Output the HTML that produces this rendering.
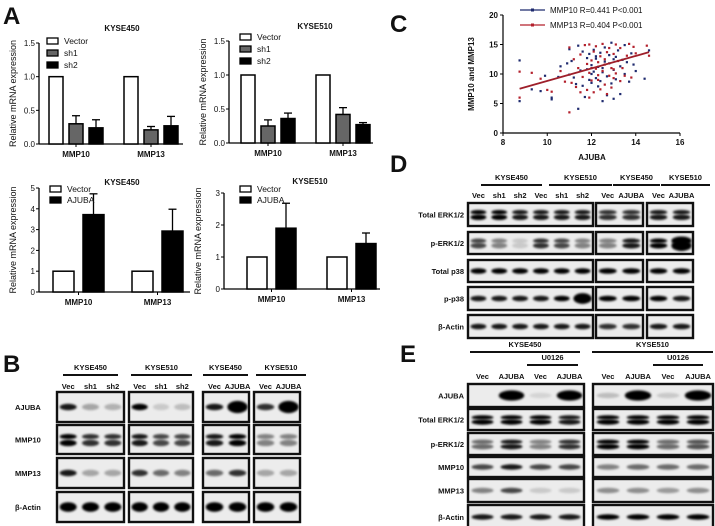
<!DOCTYPE html>
<html><head><meta charset="utf-8">
<style>
html,body{margin:0;padding:0;background:#fff;}
svg{display:block;font-family:"Liberation Sans",Arial,sans-serif;}
</style></head>
<body>
<svg id="fig" width="715" height="526" viewBox="0 0 715 526" xmlns="http://www.w3.org/2000/svg">
<defs>
<filter id="blur" x="-30%" y="-100%" width="160%" height="300%"><feGaussianBlur stdDeviation="1.0"/></filter>
</defs>
</svg>
<script>
// ---------- Panel A data ----------
const aGroups = ["MMP10","MMP13"];
const aTopSeries = ["Vector","sh1","sh2"];
const aTL_vals = [[1,0.30,0.24],[1,0.21,0.27]];
const aTL_err  = [[0,0.12,0.12],[0,0.05,0.14]];
const aTR_vals = [[1,0.25,0.36],[1,0.42,0.27]];
const aTR_err  = [[0,0.09,0.08],[0,0.10,0.03]];
const aTopTicks = [0,0.5,1.0,1.5];
const aTopTickLabels = ["0.0","0.5","1.0","1.5"];
const aBotSeries = ["Vector","AJUBA"];
const aBL_vals = [[1,3.72],[1,2.93]];
const aBL_err  = [[0,1.0],[0,1.05]];
const aBL_ticks = [0,1,2,3,4,5];
const aBR_vals = [[1,1.9],[1,1.42]];
const aBR_err  = [[0,0.78],[0,0.33]];
const aBR_ticks = [0,1,2,3];
// ---------- Panel C data ----------
const cXTicks = [8,10,12,14,16];
const cYTicks = [0,5,10,15,20];
const mmp10Pts = [[8.75,12.3],[8.75,5.4],[9.3,7.4],[9.7,7.1],[9.9,9.7],[10.2,5.7],[10.2,6.0],[10.5,9.5],[10.6,11.3],[10.9,11.8],[11.0,9.9],[11.0,14.2],[11.1,12.2],[11.2,9.4],[11.3,8.3],[11.4,4.1],[11.4,14.8],[11.5,10.6],[11.6,13.8],[11.6,8.0],[11.7,6.1],[11.8,12.7],[11.9,9.0],[11.9,13.4],[12.0,8.5],[12.0,11.5],[12.1,10.4],[12.1,14.1],[12.2,9.3],[12.2,12.6],[12.3,7.9],[12.3,11.2],[12.4,13.6],[12.4,8.8],[12.5,5.4],[12.5,10.3],[12.6,12.1],[12.6,14.5],[12.7,9.6],[12.7,6.4],[12.8,11.8],[12.8,13.2],[12.9,8.4],[12.9,15.3],[13.0,10.7],[13.0,5.8],[13.1,12.9],[13.1,9.1],[13.2,14.0],[13.3,11.3],[13.3,6.6],[13.4,12.4],[13.5,10.0],[13.5,14.9],[13.6,12.0],[13.7,8.7],[13.8,13.5],[13.9,11.6],[14.0,10.5],[14.4,9.2],[14.6,14.0],[12.0,10.0],[12.5,11.0],[13.0,12.5],[11.8,10.8],[12.2,13.0]];
const mmp13Pts = [[8.75,10.4],[8.75,6.0],[9.3,10.2],[9.7,9.2],[10.0,7.3],[10.2,7.0],[10.6,10.5],[10.8,8.7],[11.0,14.5],[11.0,3.5],[11.1,8.5],[11.2,12.5],[11.3,7.8],[11.4,11.0],[11.5,6.9],[11.5,13.3],[11.6,9.5],[11.7,14.9],[11.8,7.3],[11.8,11.7],[11.9,15.0],[11.9,6.0],[12.0,12.3],[12.0,8.9],[12.1,13.8],[12.1,6.9],[12.2,10.9],[12.2,14.7],[12.3,9.0],[12.3,12.0],[12.4,7.4],[12.4,13.0],[12.5,10.5],[12.5,15.1],[12.6,8.2],[12.6,11.6],[12.7,13.7],[12.7,6.6],[12.8,9.7],[12.8,14.4],[12.9,11.0],[12.9,7.7],[13.0,13.4],[13.0,9.3],[13.1,15.0],[13.1,10.1],[13.2,12.2],[13.3,8.8],[13.3,14.4],[13.4,11.0],[13.5,9.7],[13.6,13.1],[13.7,15.1],[13.8,9.4],[13.9,14.6],[14.0,13.5],[14.5,14.8],[14.6,13.1],[12.0,11.0],[12.6,12.5],[13.0,10.8],[12.3,9.8],[11.9,10.2]];
const fitLine = [[8.75,7.5],[14.6,13.7]];

const svg = document.getElementById('fig');
const NS = "http://www.w3.org/2000/svg";
function mk(tag, attrs, name, parent){
  const el = document.createElementNS(NS, tag);
  for (const k in attrs) el.setAttribute(k, attrs[k]);
  
  
  (parent||svg).appendChild(el);
  return el;
}
function txt(x,y,s,size,name,opts){
  opts = opts||{};
  const t = mk('text',{x:x,y:y,'font-size':size,'font-weight':opts.w||'bold','text-anchor':opts.a||'middle',fill:opts.fill||'#111'},name);
  if (opts.rot) t.setAttribute('transform','rotate(-90 '+x+' '+y+')');
  t.textContent = s; return t;
}
txt(3,24,"A",24,"panel-label-a",{a:'start'});
txt(3,372,"B",24,"panel-label-b",{a:'start'});
txt(390,32,"C",24,"panel-label-c",{a:'start'});
txt(390,172,"D",24,"panel-label-d",{a:'start'});
txt(400,362,"E",24,"panel-label-e",{a:'start'});

const fills = {"Vector":"#fff","sh1":"#666","sh2":"#000","AJUBA":"#000"};
function barChart(o){
  const y = v => o.y0 - (v - 0)/(o.ymax) * (o.y0 - o.ytop);
  txt(o.tx,o.ty,o.title,8,"chart-title");
  txt(o.ax-23,(o.y0+o.ytop)/2,"Relative mRNA expression",9,"y-axis-title",{rot:true,w:'normal'});
  mk('line',{x1:o.ax,y1:o.y0,x2:o.ax,y2:o.ytop,stroke:'#000','stroke-width':1.3},"y-axis");
  mk('line',{x1:o.ax,y1:o.y0,x2:o.xend,y2:o.y0,stroke:'#000','stroke-width':1.3},"x-axis");
  o.ticks.forEach((t,i)=>{
    mk('line',{x1:o.ax-3,y1:y(t),x2:o.ax,y2:y(t),stroke:'#000'},"y-tick");
    txt(o.ax-4,y(t)+3,o.tickLabels?o.tickLabels[i]:String(t),8,"y-tick-label",{a:'end',w:'normal'});
  });
  aGroups.forEach((g,gi)=>{
    const gx = o.gx[gi];
    o.series.forEach((s,si)=>{
      const x = gx + si*o.step, v = o.vals[gi][si], e = o.err[gi][si];
      mk('rect',{x:x,y:y(v),width:o.bw,height:o.y0-y(v),fill:fills[s],stroke:'#000','stroke-width':1.5},"bar-"+g.toLowerCase()+"-"+s.toLowerCase());
      if (e>0){
        const cx = x+o.bw/2;
        mk('line',{x1:cx,y1:y(v),x2:cx,y2:y(v+e),stroke:'#000','stroke-width':1.3},"error-bar");
        mk('line',{x1:cx-4,y1:y(v+e),x2:cx+4,y2:y(v+e),stroke:'#000','stroke-width':1.3},"error-cap");
      }
    });
    const mid = gx + (o.series.length*o.step - (o.step-o.bw))/2;
    mk('line',{x1:mid,y1:o.y0,x2:mid,y2:o.y0+3,stroke:'#000'},"x-tick");
    txt(mid,o.y0+13,g,8,"x-tick-label");
  });
  o.series.forEach((s,si)=>{
    const ly = o.ly + si*o.lstep;
    mk('rect',{x:o.lx,y:ly-4,width:11,height:6,fill:fills[s],stroke:'#000','stroke-width':1.3},"legend-swatch-"+s.toLowerCase());
    txt(o.lx+17,ly+2,s,8.5,"legend-entry-"+s.toLowerCase(),{a:'start',w:'normal'});
  });
}
barChart({title:"KYSE450",tx:122,ty:31,ax:39,y0:144,ytop:43,ymax:1.5,xend:183,ticks:aTopTicks,tickLabels:aTopTickLabels,
  series:aTopSeries,vals:aTL_vals,err:aTL_err,gx:[49,124],step:20,bw:14,lx:47,ly:42,lstep:12});
barChart({title:"KYSE510",tx:315,ty:29,ax:229,y0:143,ytop:41,ymax:1.5,xend:373,ticks:aTopTicks,tickLabels:aTopTickLabels,
  series:aTopSeries,vals:aTR_vals,err:aTR_err,gx:[241,316],step:20,bw:14,lx:240,ly:38,lstep:12});
barChart({title:"KYSE450",tx:122,ty:185,ax:39,y0:292,ytop:188,ymax:5,xend:190,ticks:aBL_ticks,
  series:aBotSeries,vals:aBL_vals,err:aBL_err,gx:[53,132],step:30,bw:21,lx:50,ly:190,lstep:11});
barChart({title:"KYSE510",tx:310,ty:184,ax:224,y0:289,ytop:193,ymax:3,xend:380,ticks:aBR_ticks,
  series:aBotSeries,vals:aBR_vals,err:aBR_err,gx:[247,327],step:29,bw:20,lx:240,ly:190,lstep:11});

// ---------- Panel C scatter ----------
(function(){
  const X = v => 503 + (v-8)/8*177;
  const Y = v => 133 - v/20*118;
  mk('line',{x1:503,y1:133,x2:503,y2:15,stroke:'#000','stroke-width':1.2},"c-y-axis");
  mk('line',{x1:503,y1:133,x2:680,y2:133,stroke:'#000','stroke-width':1.2},"c-x-axis");
  cYTicks.forEach(t=>{ mk('line',{x1:500,y1:Y(t),x2:503,y2:Y(t),stroke:'#000'},"c-y-tick"); txt(498,Y(t)+3,String(t),8,"c-y-tick-label",{a:'end'}); });
  cXTicks.forEach(t=>{ mk('line',{x1:X(t),y1:133,x2:X(t),y2:136,stroke:'#000'},"c-x-tick"); txt(X(t),145,String(t),8,"c-x-tick-label"); });
  txt(592,160,"AJUBA",8,"c-x-axis-title");
  txt(474,74,"MMP10 and MMP13",8,"c-y-axis-title",{rot:true});
  mmp10Pts.forEach(p=>mk('rect',{x:X(p[0])-1.1,y:Y(p[1])-1.1,width:2.2,height:2.2,fill:'#1e2a6e'},"point-mmp10"));
  mmp13Pts.forEach(p=>mk('rect',{x:X(p[0])-1.1,y:Y(p[1])-1.1,width:2.2,height:2.2,fill:'#b3202c'},"point-mmp13"));
  mk('line',{x1:X(fitLine[0][0]),y1:Y(fitLine[0][1]),x2:X(fitLine[1][0]),y2:Y(fitLine[1][1]),stroke:'#9e1f2a','stroke-width':1.8},"fit-line");
  mk('line',{x1:520,y1:10,x2:545,y2:10,stroke:'#1e2a6e','stroke-width':1.2},"legend-line-mmp10");
  mk('rect',{x:531,y:8.5,width:3,height:3,fill:'#1e2a6e'},"legend-marker-mmp10");
  txt(550,13,"MMP10 R=0.441 P<0.001",8,"legend-entry-mmp10",{a:'start',w:'normal'});
  mk('line',{x1:520,y1:25,x2:545,y2:25,stroke:'#b3202c','stroke-width':1.2},"legend-line-mmp13");
  mk('rect',{x:531,y:23.5,width:3,height:3,fill:'#b3202c'},"legend-marker-mmp13");
  txt(550,28,"MMP13 R=0.404 P<0.001",8,"legend-entry-mmp13",{a:'start',w:'normal'});
})();

// ---------- Western blots ----------
function blot(x,y,w,h,ints,name,opt){
  opt=opt||{};
  const g = mk('g',{},name);
  mk('rect',{x:x,y:y,width:w,height:h,fill:opt.bg||'#ececec',stroke:'#111','stroke-width':2.4},name+"-frame",g);
  const n = ints.length, lw = w/n;
  ints.forEach((v,i)=>{
    if (v<=0) return;
    const cx = x+lw*(i+0.5);
    const bands = opt.double ? [0.4,0.62] : [0.5];
    bands.forEach((f,bi)=>{
      const ry = (opt.ry||3.2)*(v>1?1.9:1);
      mk('ellipse',{cx:cx,cy:y+h*f,rx:lw*(v>1?0.44:0.38),ry:bi?ry:ry*(opt.double?0.8:1),fill:'#000','fill-opacity':Math.min(1,v),filter:'url(#blur)'},"band",g);
    });
  });
}
function header(x1,x2,y,label,name){
  txt((x1+x2)/2,y,label,7.5,name);
  mk('line',{x1:x1,y1:y+5,x2:x2,y2:y+5,stroke:'#111','stroke-width':2},name+"-line");
}
function lanes(x,w,y,labs,name){
  const lw=w/labs.length;
  labs.forEach((l,i)=>txt(x+lw*(i+0.5),y,l,7.5,name));
}
// Panel B
header(63,118,370,"KYSE450","b-header-kyse450");
header(131,192,370,"KYSE510","b-header-kyse510");
header(203,248,370,"KYSE450","b-header-kyse450-ajuba");
header(256,306,370,"KYSE510","b-header-kyse510-ajuba");
lanes(57,67,389,["Vec","sh1","sh2"],"lane-label");
lanes(129,64,389,["Vec","sh1","sh2"],"lane-label");
lanes(203,46,389,["Vec","AJUBA"],"lane-label");
lanes(254,46,389,["Vec","AJUBA"],"lane-label");
const bRows=["AJUBA","MMP10","MMP13","β-Actin"];
const bY=[[392,30],[425,29],[458,30],[492,30]];
const bInt=[
 [[0.9,0.3,0.25],[1,0.15,0.2],[0.9,1.4],[0.8,1.4]],
 [[1,0.8,0.8],[0.9,0.7,0.7],[0.9,1],[0.45,0.45]],
 [[0.9,0.3,0.3],[0.8,0.55,0.45],[0.55,0.8],[0.3,0.3]],
 [[1,1,1],[1,1,1],[1,1],[1,1]]];
const bX=[[57,67],[129,64],[203,46],[254,46]];
bRows.forEach((r,ri)=>{
  txt(15,bY[ri][0]+bY[ri][1]/2+3,r,7.5,"b-row-label",{a:'start'});
  bX.forEach((bx,bi)=>blot(bx[0],bY[ri][0],bx[1],bY[ri][1],bInt[ri][bi],"b-blot-"+r.toLowerCase(),{double:ri===1,ry:ri===3?4.8:3.2}));
});
// Panel D
header(481,542,180,"KYSE450","d-header-kyse450");
header(549,612,180,"KYSE510","d-header-kyse510");
header(613,660,180,"KYSE450","d-header-kyse450-ajuba");
header(661,710,180,"KYSE510","d-header-kyse510-ajuba");
lanes(468,125,198,["Vec","sh1","sh2","Vec","sh1","sh2"],"lane-label");
lanes(596,47,198,["Vec","AJUBA"],"lane-label");
lanes(647,46,198,["Vec","AJUBA"],"lane-label");
const dRows=["Total ERK1/2","p-ERK1/2","Total p38","p-p38","β-Actin"];
const dY=[[203,23],[232,22],[260,22],[287,23],[315,23]];
const dInt=[
 [[1,1,0.9,0.9,0.9,0.9],[0.8,0.8],[0.9,0.9]],
 [[0.7,0.45,0.15,0.8,0.7,0.45],[0.45,0.9],[1,1.3]],
 [[1,1,1,1,1,1],[1,1],[1,1]],
 [[0.9,0.9,0.9,0.9,1,1.3],[1,1],[1,0.9]],
 [[0.9,0.9,0.9,0.9,0.9,0.9],[0.8,0.8],[0.9,0.9]]];
const dX=[[468,125],[596,47],[647,46]];
dRows.forEach((r,ri)=>{
  txt(464,dY[ri][0]+dY[ri][1]/2+3,r,7.5,"d-row-label",{a:'end'});
  dX.forEach((bx,bi)=>blot(bx[0],dY[ri][0],bx[1],dY[ri][1],dInt[ri][bi],"d-blot",{double:ri<2,ry:2.8}));
});
// Panel E
header(470,580,347,"KYSE450","e-header-kyse450");
header(592,713,347,"KYSE510","e-header-kyse510");
header(527,578,360,"U0126","e-header-u0126-450");
header(653,703,360,"U0126","e-header-u0126-510");
lanes(468,116,379,["Vec","AJUBA","Vec","AJUBA"],"lane-label");
lanes(593,120,379,["Vec","AJUBA","Vec","AJUBA"],"lane-label");
const eRows=["AJUBA","Total ERK1/2","p-ERK1/2","MMP10","MMP13","β-Actin"];
const eY=[[384,23],[409,21],[433,22],[457,20],[479,23],[505,24]];
const eInt=[
 [[0,1.4,0.1,1.4],[0.2,1.2,0.15,1.1]],
 [[1,1,1,0.9],[1,1,1,1]],
 [[0.55,0.9,0.45,0.8],[1,1,0.55,0.65]],
 [[0.7,0.9,0.7,0.7],[0.45,0.55,0.55,0.55]],
 [[0.45,0.7,0.15,0.15],[0.4,0.4,0.35,0.4]],
 [[0.9,0.9,0.9,0.9],[1,1,1,1]]];
const eX=[[468,116],[593,120]];
eRows.forEach((r,ri)=>{
  txt(464,eY[ri][0]+eY[ri][1]/2+3,r,7.5,"e-row-label",{a:'end'});
  eX.forEach((bx,bi)=>blot(bx[0],eY[ri][0],bx[1],eY[ri][1],eInt[ri][bi],"e-blot",{double:ri===1||ri===2,ry:2.7}));
});
</script>
</body></html>
